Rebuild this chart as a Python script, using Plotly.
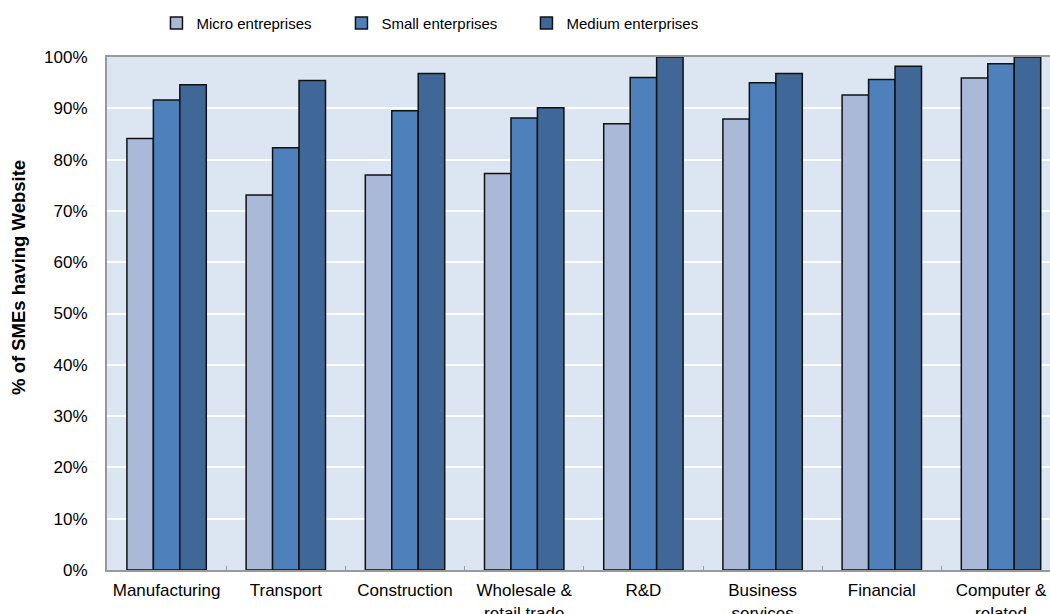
import plotly.graph_objects as go

# Sector categories (x axis) and their display labels
categories = ["Manufacturing", "Transport", "Construction", "Wholesale & retail trade",
              "R&D", "Business services", "Financial", "Computer & related"]
tick_labels = ["Manufacturing", "Transport", "Construction", "Wholesale &<br>retail trade",
               "R&D", "Business<br>services", "Financial", "Computer &<br>related"]

# Share of SMEs having a website, by enterprise size
micro = [0.841, 0.731, 0.770, 0.773, 0.870, 0.879, 0.926, 0.959]
small = [0.916, 0.823, 0.895, 0.881, 0.960, 0.950, 0.956, 0.987]
medium = [0.946, 0.954, 0.968, 0.901, 1.000, 0.968, 0.982, 1.000]

series = [
    ("Micro entreprises", micro, "#AAB9D7"),
    ("Small enterprises", small, "#4E80BC"),
    ("Medium enterprises", medium, "#3F6899"),
]

x_pos = list(range(len(categories)))

fig = go.Figure()
for name, values, color in series:
    fig.add_trace(go.Bar(
        x=x_pos, y=values, name=name,
        marker=dict(color=color, line=dict(color="#111111", width=1.5)),
        hovertext=categories,
    ))

axis_font = dict(family="Liberation Sans, Arial, sans-serif", size=17, color="#000000")

fig.update_layout(
    width=1050, height=614,
    margin=dict(l=107, r=0, t=57, b=44),
    paper_bgcolor="#FFFFFF",
    plot_bgcolor="#DCE6F2",
    barmode="group",
    bargap=0.334,
    bargroupgap=0,
    font=axis_font,
    legend=dict(
        orientation="h",
        xref="container", yref="container",
        x=0.149, y=0.989, xanchor="left", yanchor="top",
        entrywidth=140,
        font=dict(family="Liberation Sans, Arial, sans-serif", size=15),
        bgcolor="rgba(0,0,0,0)",
    ),
    xaxis=dict(
        range=[-0.5, 7.411],
        tickmode="array", tickvals=x_pos, ticktext=tick_labels,
        ticks="", ticklabelstandoff=4,
        showgrid=False, zeroline=False,
        showline=True, linecolor="#999999", linewidth=2, mirror=True,
        minor=dict(tickmode="array", tickvals=[i + 0.5 for i in x_pos[:-1]],
                   ticks="inside", ticklen=4, tickcolor="#999999", tickwidth=1,
                   showgrid=False),
        automargin=False,
        fixedrange=True,
    ),
    yaxis=dict(
        range=[0, 1.0], tickformat=".0%", dtick=0.1,
        showgrid=True, gridcolor="#FFFFFF", gridwidth=2,
        zeroline=False,
        showline=True, linecolor="#999999", linewidth=2,
        ticks="", ticklabelstandoff=14,
        automargin=False,
        fixedrange=True,
    ),
)

# Vertical axis title
fig.add_annotation(
    text="<b>% of SMEs having Website</b>",
    xref="paper", yref="paper", x=-0.094, y=0.57,
    xanchor="center", yanchor="middle", textangle=-90, showarrow=False,
    font=dict(family="Liberation Sans, Arial, sans-serif", size=18.5, color="#000000"),
)

fig.write_html("out.html")
